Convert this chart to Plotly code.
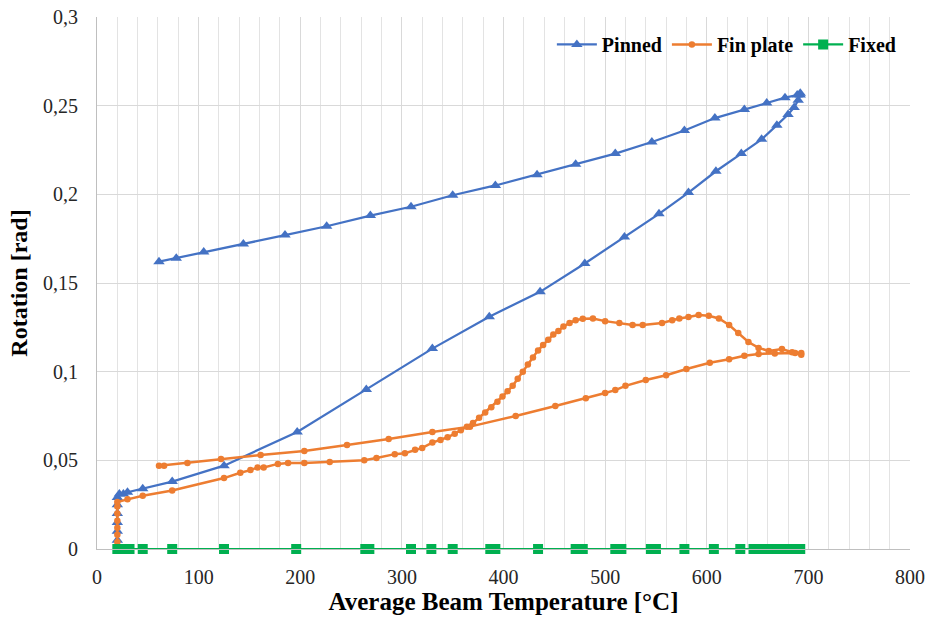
import plotly.graph_objects as go

# Pinned connection: loading at ambient, heating, then cooling
pinned_T = [20, 20, 20, 20, 20, 20, 20, 22, 26, 30, 45, 74, 125, 197, 265, 330, 386, 436,
            480, 519, 553, 582, 609, 634, 654, 669, 680, 686, 690, 692,
            692, 689, 677, 659, 637, 608, 578, 546, 510, 471, 433, 392, 350, 309, 269,
            226, 185, 144, 105, 78, 61]
pinned_R = [0.0, 0.005, 0.010, 0.015, 0.020, 0.025, 0.029, 0.031, 0.031, 0.032, 0.034, 0.038,
            0.047, 0.066, 0.090, 0.113, 0.131, 0.145, 0.161, 0.176, 0.189, 0.201, 0.213,
            0.223, 0.231, 0.239, 0.245, 0.249, 0.253, 0.256,
            0.257, 0.256, 0.2545, 0.2515, 0.2478, 0.243, 0.236, 0.2295, 0.223, 0.217,
            0.211, 0.205, 0.1995, 0.193, 0.188, 0.182, 0.177, 0.172, 0.1675, 0.164, 0.162]

# Fin plate connection
fin_T = [20, 20, 20, 20, 20, 20, 20, 20, 30, 45, 74, 125, 141, 151, 158, 164, 178, 188, 204,
         229, 263, 275, 293, 303, 313, 320, 330, 338, 345, 352, 358, 364, 370, 376, 382,
         388, 394, 399, 404, 409, 414, 419, 424, 429, 434, 439, 444, 449, 454, 459, 465,
         471, 478, 488, 500, 514, 527, 537, 556, 566, 573, 582, 592, 602, 612, 622, 631,
         641, 651, 661, 674, 684, 693,
         693, 687, 667, 651, 637, 622, 603, 580, 560, 540, 520, 510, 500, 481, 451, 412,
         367, 330, 287, 246, 204, 161, 122, 89, 66, 61]
fin_R = [0.0, 0.004, 0.008, 0.012, 0.016, 0.020, 0.024, 0.0265, 0.028, 0.030, 0.033, 0.040,
         0.043, 0.0445, 0.046, 0.046, 0.048, 0.0485, 0.0485, 0.049, 0.050, 0.0513, 0.0535,
         0.054, 0.056, 0.057, 0.060, 0.0615, 0.063, 0.065, 0.067, 0.069, 0.071, 0.074,
         0.077, 0.080, 0.083, 0.086, 0.089, 0.092, 0.096, 0.100, 0.104, 0.108, 0.112,
         0.115, 0.118, 0.121, 0.123, 0.1255, 0.1275, 0.129, 0.1298, 0.130, 0.1285, 0.1275,
         0.1263, 0.1263, 0.1275, 0.129, 0.130, 0.1308, 0.132, 0.1315, 0.130, 0.1263,
         0.1218, 0.1167, 0.1134, 0.1117, 0.1128, 0.111, 0.1105,
         0.1095, 0.1105, 0.1103, 0.110, 0.109, 0.107, 0.105, 0.1015, 0.098, 0.0953, 0.092,
         0.0896, 0.088, 0.085, 0.0806, 0.075, 0.069, 0.066, 0.062, 0.0587, 0.0553, 0.053,
         0.0507, 0.0485, 0.047, 0.047]

# Fixed connection: no rotation at any temperature
fixed_T = [20, 22, 25, 28, 32, 45, 74, 125, 196, 264, 268, 309, 329, 350, 387, 392, 434,
           471, 478, 510, 516, 545, 550, 578, 607, 633, 646, 652, 658, 664, 670, 676, 682,
           688, 692]
fixed_R = [0.0] * len(fixed_T)

y_ticks = [0, 0.05, 0.1, 0.15, 0.2, 0.25, 0.3]
y_labels = ["0", "0,05", "0,1", "0,15", "0,2", "0,25", "0,3"]
x_ticks = [0, 100, 200, 300, 400, 500, 600, 700, 800]

BLUE = "#4472C4"
ORANGE = "#ED7D31"
GREEN = "#00B050"
SERIF = "Liberation Serif"

fig = go.Figure()
fig.add_trace(go.Scatter(
    x=pinned_T, y=pinned_R, name="Pinned", mode="lines+markers",
    line=dict(color=BLUE, width=2.25),
    marker=dict(symbol="triangle-up", size=10, color=BLUE),
))
fig.add_trace(go.Scatter(
    x=fin_T, y=fin_R, name="Fin plate", mode="lines+markers",
    line=dict(color=ORANGE, width=2.5),
    marker=dict(symbol="circle", size=6.5, color=ORANGE),
))
fig.add_trace(go.Scatter(
    x=fixed_T, y=fixed_R, name="Fixed", mode="lines+markers",
    line=dict(color=GREEN, width=2.25),
    marker=dict(symbol="square", size=10, color=GREEN),
    cliponaxis=False,
))

fig.update_layout(
    width=938, height=617,
    margin=dict(l=97, r=28, t=17, b=68),
    paper_bgcolor="white", plot_bgcolor="white",
    font=dict(family=SERIF, color="#000000"),
    legend=dict(
        orientation="h", x=0.99, xanchor="right", y=0.985, yanchor="top",
        font=dict(family=SERIF, size=20, color="#000000", weight="bold"),
        bgcolor="rgba(255,255,255,0)", itemwidth=40, tracegroupgap=0,
    ),
    xaxis=dict(
        range=[0, 800], tickvals=x_ticks, ticks="", automargin=False,
        showgrid=True, gridcolor="#d9d9d9", gridwidth=1,
        minor=dict(dtick=20, showgrid=True, gridcolor="#e3e3e3", gridwidth=1),
        showline=True, linecolor="#bfbfbf", linewidth=1,
        zeroline=False, ticklabelstandoff=10,
        tickfont=dict(family=SERIF, size=20, color="#262626"),
        title=dict(text="Average Beam Temperature [°C]", standoff=2,
                   font=dict(family=SERIF, size=25, color="#000000", weight="bold")),
    ),
    yaxis=dict(
        range=[0, 0.3], tickvals=y_ticks, ticktext=y_labels, ticks="", automargin=False,
        showgrid=True, gridcolor="#d9d9d9", gridwidth=1,
        showline=True, linecolor="#bfbfbf", linewidth=1,
        zeroline=False, ticklabelstandoff=14,
        tickfont=dict(family=SERIF, size=20, color="#262626"),
        title=dict(text="Rotation [rad]", standoff=8,
                   font=dict(family=SERIF, size=24, color="#000000", weight="bold")),
    ),
    showlegend=True,
)

fig.write_html("out.html")
